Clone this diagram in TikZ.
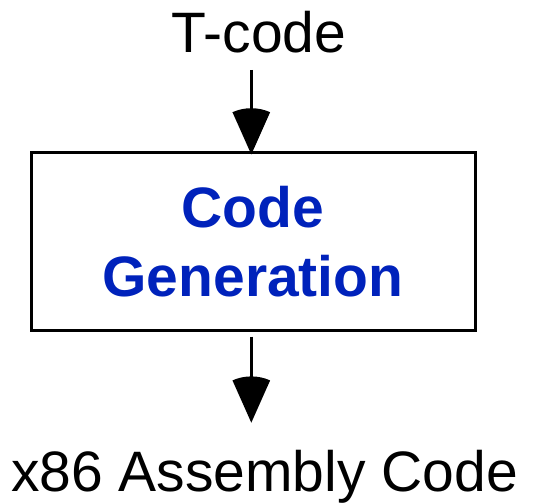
\documentclass[tikz,border=0pt]{standalone}
\usepackage{fontspec}
\setmainfont{Liberation Sans}
\definecolor{cgblue}{RGB}{0,34,187}
\tikzset{
  lbl/.style={font=\fontsize{57}{69}\selectfont, inner sep=0pt, anchor=base},
  stagebox/.style={draw=black, line width=3pt, minimum width=444pt, minimum height=178pt,
    inner sep=0pt, align=center, text=cgblue, font=\fontsize{57}{69}\selectfont\bfseries},
  conn/.style={line width=3.2pt},
  headfill/.style={fill=black}
}
\begin{document}
\begin{tikzpicture}[x=1pt,y=1pt]
\useasboundingbox (0,0) rectangle (542,504);
\node[lbl] (tc) at (259,451.3) {T-code};
\node[stagebox] (cg) at (253,262.5) {Code\\Generation};
\node[lbl] (asm) at (264.5,12.3) {x86 Assembly Code};
% top connector
\coordinate (s1) at (251.3,434);
\coordinate (t1) at (251.3,349.5);
\draw[conn] (s1) -- ([yshift=40pt]t1);
\fill[headfill] (t1) -- ++(114:46.3pt) arc[start angle=114, end angle=66, radius=46.3pt] -- cycle;
% bottom connector
\coordinate (s2) at (251.3,167.3);
\coordinate (t2) at (251.3,81.3);
\draw[conn] (s2) -- ([yshift=40pt]t2);
\fill[headfill] (t2) -- ++(114:46.3pt) arc[start angle=114, end angle=66, radius=46.3pt] -- cycle;
\end{tikzpicture}
\end{document}
